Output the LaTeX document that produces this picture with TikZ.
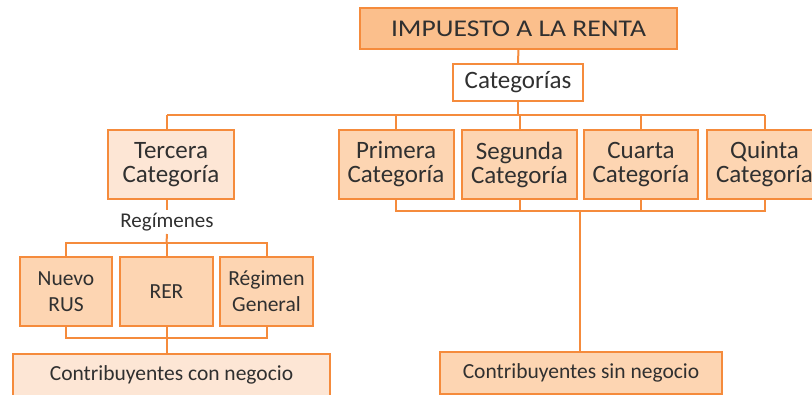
\documentclass[tikz,border=0pt]{standalone}
\usepackage{fontspec}
\setmainfont{Carlito}
\definecolor{ob}{HTML}{F58B3C}
\definecolor{fA}{HTML}{FBBF8C}
\definecolor{fB}{HTML}{FDD5B2}
\definecolor{fC}{HTML}{FDE6D5}
\definecolor{tx}{HTML}{303030}
\begin{document}
\begin{tikzpicture}[x=1pt,y=-1pt,
  box/.style={draw=ob,line width=2pt,inner sep=0pt,align=center,text=tx,font=\fontsize{25}{24}\selectfont},
  small/.style={font=\fontsize{21.5}{26}\selectfont},
  conn/.style={draw=ob,line width=2pt}]
\useasboundingbox (0,0) rectangle (812,394);
\clip (0,0) rectangle (812,394);
\node[box,fill=fA,minimum width=317pt,minimum height=41pt,font=\fontsize{24}{24}\selectfont\addfontfeature{FakeStretch=1.15}] (top) at (518.5,28.5) {IMPUESTO A LA RENTA};
\node[box,fill=white,minimum width=130pt,minimum height=37pt] (cat) at (518,82.5) {Categorías};
\node[box,fill=fC,minimum width=126pt,minimum height=69pt] (terc) at (171,164.5) {Tercera\\Categoría};
\node[box,fill=fB,minimum width=115pt,minimum height=69pt] (prim) at (396,164.5) {Primera\\Categoría};
\node[box,fill=fB,minimum width=115pt,minimum height=69pt] (seg) at (519.5,164.5) {Segunda\\Categoría};
\node[box,fill=fB,minimum width=114pt,minimum height=69pt] (cua) at (641,164.5) {Cuarta\\Categoría};
\node[box,fill=fB,minimum width=115pt,minimum height=69pt] (qui) at (764.5,164.5) {Quinta\\Categoría};
\node[text=tx,inner sep=0pt,font=\fontsize{21}{24}\selectfont] (reg) at (167,222.5) {Regímenes};
\node[box,small,fill=fB,minimum width=92pt,minimum height=69pt] (rus) at (66,291.5) {Nuevo\\RUS};
\node[box,small,fill=fB,minimum width=93pt,minimum height=69pt] (rer) at (166.5,291.5) {RER};
\node[box,small,fill=fB,minimum width=93pt,minimum height=69pt] (rg) at (266.5,291.5) {Régimen\\General};
\node[box,small,fill=fC,minimum width=317pt,minimum height=42pt] (con) at (171.5,375) {Contribuyentes con negocio};
\node[box,small,fill=fB,minimum width=282pt,minimum height=42pt] (sin) at (581,373) {Contribuyentes sin negocio};
% connectors
\coordinate (busL) at (167,115);
\coordinate (busR) at (764.5,115);
\draw[conn] (top) -- (cat);
\draw[conn] (cat.south) -- (cat.south |- busL);
\draw[conn] (busL) -- (busR);
\draw[conn] (busL) -- (busL |- terc.north);
\draw[conn] (prim.north |- busL) -- (prim.north);
\draw[conn] (seg.north |- busL) -- (seg.north);
\draw[conn] (cua.north |- busL) -- (cua.north);
\draw[conn] (busR) -- (qui.north);
\coordinate (bb) at (580,211);
\draw[conn] (prim.south) -- (prim.south |- bb) -- (qui.south |- bb) -- (qui.south);
\draw[conn] (seg.south) -- (seg.south |- bb);
\draw[conn] (cua.south) -- (cua.south |- bb);
\draw[conn] (bb) -- (bb |- sin.north);
\coordinate (rt) at (167,210);
\coordinate (rbm) at (167,234);
\draw[conn] (rt |- terc.south) -- (rt);
\coordinate (rb) at (166.5,243);
\draw[conn] (rbm) -- (rb);
\draw[conn] (rus.north) -- (rus.north |- rb) -- (rg.north |- rb) -- (rg.north);
\draw[conn] (rb) -- (rer.north);
\coordinate (rb2) at (166.5,338);
\draw[conn] (rus.south) -- (rus.south |- rb2) -- (rg.south |- rb2) -- (rg.south);
\draw[conn] (rer.south) -- (rb2) -- (rb2 |- con.north);
\end{tikzpicture}
\end{document}
